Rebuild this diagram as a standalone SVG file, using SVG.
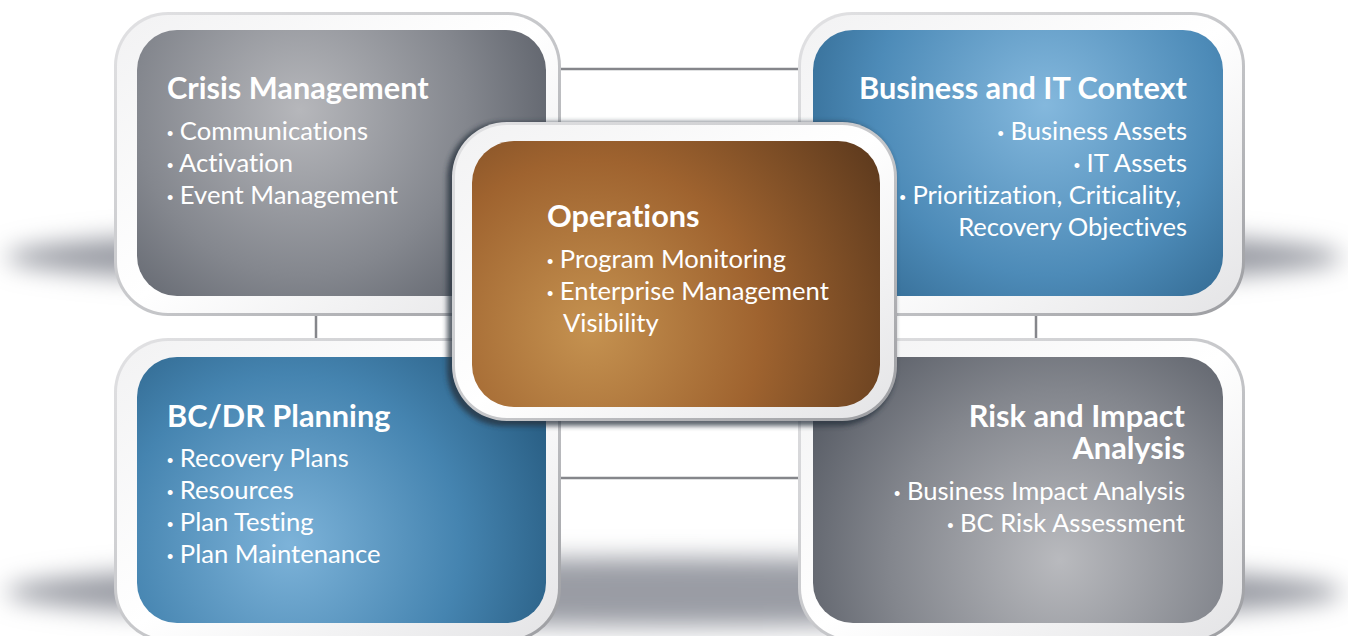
<svg xmlns="http://www.w3.org/2000/svg" width="1348" height="636" viewBox="0 0 1348 636">
  <style>
    text { font-variant-ligatures: none; }
    .title { font-family: Lato, "Open Sans", "Liberation Sans", sans-serif; font-weight: 700; font-size: 30.7px; fill: #ffffff; }
    .item  { font-family: Lato, "Open Sans", "Liberation Sans", sans-serif; font-weight: 400; font-size: 25.6px; fill: #ffffff; }
    .dot   { font-family: "Liberation Sans", Arial, sans-serif; font-size: 18px; }
    .end   { text-anchor: end; }
    .link  { stroke: #85868b; stroke-width: 2.5; fill: none; }
  </style>
  <defs>
    <filter id="soft" x="-20%" y="-200%" width="140%" height="500%">
      <feGaussianBlur stdDeviation="12"/>
    </filter>
    <filter id="edge" x="-10%" y="-10%" width="120%" height="120%">
      <feGaussianBlur stdDeviation="2.5"/>
    </filter>
    <!-- frame rim and inner band -->
    <linearGradient id="rim" x1="0" y1="0" x2="1" y2="1">
      <stop offset="0" stop-color="#e2e2e4"/>
      <stop offset="0.55" stop-color="#c4c5c8"/>
      <stop offset="1" stop-color="#9c9da1"/>
    </linearGradient>
    <linearGradient id="band" x1="0" y1="0" x2="1" y2="1">
      <stop offset="0" stop-color="#f2f2f3"/>
      <stop offset="0.5" stop-color="#ffffff"/>
      <stop offset="1" stop-color="#e4e4e6"/>
    </linearGradient>
    <!-- panel fills -->
    <radialGradient id="gCrisis" gradientUnits="userSpaceOnUse" cx="300" cy="110" r="330">
      <stop offset="0" stop-color="#b6b7bb"/>
      <stop offset="0.5" stop-color="#84878e"/>
      <stop offset="1" stop-color="#474c56"/>
    </radialGradient>
    <radialGradient id="gBiz" gradientUnits="userSpaceOnUse" cx="1045" cy="105" r="340">
      <stop offset="0" stop-color="#84b8dd"/>
      <stop offset="0.5" stop-color="#4d8bb8"/>
      <stop offset="1" stop-color="#1f5176"/>
    </radialGradient>
    <radialGradient id="gPlan" gradientUnits="userSpaceOnUse" cx="290" cy="545" r="340">
      <stop offset="0" stop-color="#7db3d9"/>
      <stop offset="0.5" stop-color="#4584b0"/>
      <stop offset="1" stop-color="#1b4b6d"/>
    </radialGradient>
    <radialGradient id="gRisk" gradientUnits="userSpaceOnUse" cx="1060" cy="560" r="340">
      <stop offset="0" stop-color="#b9babe"/>
      <stop offset="0.5" stop-color="#83868d"/>
      <stop offset="1" stop-color="#444953"/>
    </radialGradient>
    <radialGradient id="gOps" gradientUnits="userSpaceOnUse" cx="590" cy="330" r="340">
      <stop offset="0" stop-color="#c59250"/>
      <stop offset="0.5" stop-color="#9f632f"/>
      <stop offset="1" stop-color="#5c391d"/>
    </radialGradient>
  </defs>

  <rect width="1348" height="636" fill="#ffffff"/>

  <!-- floor shadows under each row -->
  <g id="shadows" fill="#9a9ca4">
    <ellipse cx="674" cy="257" rx="668" ry="34" filter="url(#soft)"/>
    <ellipse cx="674" cy="592" rx="668" ry="34" filter="url(#soft)"/>
  </g>

  <!-- connectors -->
  <g id="connectors">
    <line class="link" x1="556" y1="69" x2="804" y2="69"/>
    <line class="link" x1="556" y1="478" x2="804" y2="478"/>
    <line class="link" x1="316" y1="310" x2="316" y2="344"/>
    <line class="link" x1="1036" y1="310" x2="1036" y2="344"/>
  </g>

  <g id="crisis-management">
    <rect x="114" y="12" width="447" height="304" rx="54" fill="url(#rim)"/>
    <rect x="117" y="15" width="441" height="298" rx="51" fill="url(#band)"/>
    <rect x="137" y="30" width="409" height="266" rx="40" fill="url(#gCrisis)"/>
    <text class="title" x="167" y="99">Crisis Management</text>
    <text class="item" x="167" y="140"><tspan class="dot">•</tspan> Communications</text>
    <text class="item" x="167" y="172"><tspan class="dot">•</tspan> Activation</text>
    <text class="item" x="167" y="204"><tspan class="dot">•</tspan> Event Management</text>
  </g>

  <g id="business-it-context">
    <rect x="798" y="12" width="447" height="304" rx="54" fill="url(#rim)"/>
    <rect x="801" y="15" width="441" height="298" rx="51" fill="url(#band)"/>
    <rect x="813" y="30" width="410" height="266" rx="40" fill="url(#gBiz)"/>
    <text class="title end" x="1187" y="99">Business and IT Context</text>
    <text class="item end" x="1187" y="140"><tspan class="dot">•</tspan> Business Assets</text>
    <text class="item end" x="1187" y="172"><tspan class="dot">•</tspan> IT Assets</text>
    <text class="item end" x="1181" y="204"><tspan class="dot">•</tspan> Prioritization, Criticality,</text>
    <text class="item end" x="1187" y="236">Recovery Objectives</text>
  </g>

  <g id="bcdr-planning">
    <rect x="114" y="338" width="447" height="304" rx="54" fill="url(#rim)"/>
    <rect x="117" y="341" width="441" height="298" rx="51" fill="url(#band)"/>
    <rect x="137" y="357" width="409" height="266" rx="40" fill="url(#gPlan)"/>
    <text class="title" x="167" y="427">BC/DR Planning</text>
    <text class="item" x="167" y="467"><tspan class="dot">•</tspan> Recovery Plans</text>
    <text class="item" x="167" y="499"><tspan class="dot">•</tspan> Resources</text>
    <text class="item" x="167" y="531"><tspan class="dot">•</tspan> Plan Testing</text>
    <text class="item" x="167" y="563"><tspan class="dot">•</tspan> Plan Maintenance</text>
  </g>

  <g id="risk-impact-analysis">
    <rect x="798" y="338" width="447" height="304" rx="54" fill="url(#rim)"/>
    <rect x="801" y="341" width="441" height="298" rx="51" fill="url(#band)"/>
    <rect x="813" y="357" width="410" height="266" rx="40" fill="url(#gRisk)"/>
    <text class="title end"><tspan x="1185" y="427">Risk and Impact</tspan><tspan x="1185" y="459">Analysis</tspan></text>
    <text class="item end" x="1185" y="500"><tspan class="dot">•</tspan> Business Impact Analysis</text>
    <text class="item end" x="1185" y="532"><tspan class="dot">•</tspan> BC Risk Assessment</text>
  </g>

  <g id="operations">
    <rect x="447" y="122" width="448" height="304" rx="56" fill="#26303c" opacity="0.75" filter="url(#edge)"/>
    <rect x="452" y="122" width="445" height="299" rx="55" fill="url(#rim)"/>
    <rect x="455" y="125" width="439" height="293" rx="52" fill="url(#band)"/>
    <rect x="472" y="141" width="408" height="266" rx="42" fill="url(#gOps)"/>
    <text class="title" x="547" y="227">Operations</text>
    <text class="item" x="547" y="268"><tspan class="dot">•</tspan> Program Monitoring</text>
    <text class="item" x="547" y="300"><tspan class="dot">•</tspan> Enterprise Management</text>
    <text class="item" x="563" y="332">Visibility</text>
  </g>
</svg>
